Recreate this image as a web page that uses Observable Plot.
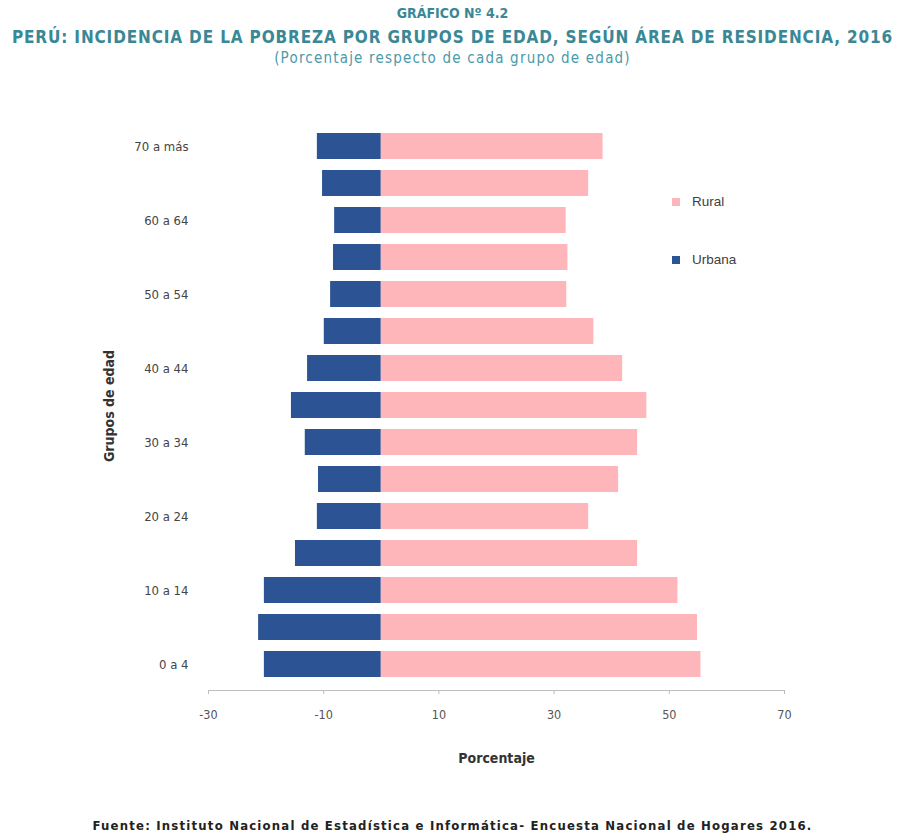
<!DOCTYPE html>
<html>
<head>
<meta charset="utf-8">
<script src="https://cdn.jsdelivr.net/npm/d3@7"></script>
<script src="https://cdn.jsdelivr.net/npm/@observablehq/plot@0.6"></script>
<style>
  html, body { margin: 0; padding: 0; background: #fff; }
  #wrap { position: relative; width: 905px; height: 836px; overflow: hidden; font-family: "DejaVu Sans Condensed", "Liberation Sans", sans-serif; }
  .t { position: absolute; left: 0; width: 905px; text-align: center; white-space: nowrap; }
  #t1 { top: 5px; font-size: 14px; font-weight: bold; color: #3a8795; }
  #t2 { top: 27px; font-size: 17px; letter-spacing: 0.85px; font-weight: bold; color: #3a8795; }
  #t3 { top: 49px; font-size: 15px; letter-spacing: 1.2px; color: #4a9aa8; }
  #chart { position: absolute; left: 0; top: 100px; }
  #legend { position: absolute; left: 672px; top: 194px; font-family: "Liberation Sans", "DejaVu Sans", sans-serif; font-size: 13.5px; color: #404040; }
  .li { position: absolute; left: 0; white-space: nowrap; display: flex; align-items: center; }
  .sw { width: 8px; height: 8px; margin-right: 12px; display: inline-block; }
  #foot { position: absolute; left: 0; width: 905px; top: 818px; text-align: center; font-size: 13px; letter-spacing: 1.2px; font-weight: bold; color: #222; white-space: nowrap; }
</style>
</head>
<body>
<div id="wrap">
  <div class="t" id="t1">GRÁFICO Nº 4.2</div>
  <div class="t" id="t2">PERÚ: INCIDENCIA DE LA POBREZA POR GRUPOS DE EDAD, SEGÚN ÁREA DE RESIDENCIA, 2016</div>
  <div class="t" id="t3">(Porcentaje respecto de cada grupo de edad)</div>
  <div id="chart"></div>
  <div id="legend"></div>
  <div id="foot">Fuente: Instituto Nacional de Estadística e Informática- Encuesta Nacional de Hogares  2016.</div>
</div>
<script>
const grupos = ["0 a 4","5 a 9","10 a 14","15 a 19","20 a 24","25 a 29","30 a 34","35 a 39","40 a 44","45 a 49","50 a 54","55 a 59","60 a 64","65 a 69","70 a más"];
const urbana = [20.3, 21.3, 20.3, 14.9, 11.1, 10.9, 13.2, 15.6, 12.8, 9.9, 8.8, 8.3, 8.1, 10.2, 11.1];
const rural  = [55.5, 54.9, 51.5, 44.5, 36.0, 41.2, 44.5, 46.1, 41.9, 36.9, 32.2, 32.4, 32.1, 36.0, 38.5];
const etiquetasY = ["0 a 4","10 a 14","20 a 24","30 a 34","40 a 44","50 a 54","60 a 64","70 a más"];
const ticksX = [-30, -10, 10, 30, 50, 70];
const series = ["Rural", "Urbana"];
const colores = ["#ffb6bb", "#2c5494"];

const data = grupos.map((g, i) => ({grupo: g, urbana: -urbana[i], rural: rural[i]}));

const chart = Plot.plot({
  width: 905,
  height: 680,
  marginTop: 21,
  marginBottom: 90,
  marginLeft: 208,
  marginRight: 121,
  style: {fontFamily: '"DejaVu Sans Condensed", sans-serif', fontSize: "12px", color: "#555"},
  x: {domain: [-30, 70]},
  y: {domain: grupos.slice().reverse(), padding: 0.29},
  marks: [
    Plot.barX(data, {y: "grupo", x1: 0, x2: "urbana", fill: colores[1]}),
    Plot.barX(data, {y: "grupo", x1: 0, x2: "rural", fill: colores[0]}),
    Plot.frame({anchor: "bottom", stroke: "#bdbdbd", strokeWidth: 1.2}),
    Plot.axisX({ticks: ticksX, tickSize: 4, tickPadding: 16, stroke: "#bdbdbd", fill: "#555", fontSize: 12.5,
      tickFormat: d => String(d),
      label: "Porcentaje", labelAnchor: "center", labelArrow: "none", labelOffset: 72}),
    Plot.axisY({tickSize: 0, tickPadding: 20, fill: "#444", fontSize: 13,
      tickFormat: d => etiquetasY.includes(d) ? d : "",
      label: "Grupos de edad", labelAnchor: "center", labelArrow: "none", labelOffset: 104})
  ]
});
document.getElementById("chart").appendChild(chart);

// style axis titles
chart.querySelectorAll("g[aria-label='x-axis label'] text, g[aria-label='y-axis label'] text").forEach(t => {
  t.setAttribute("font-weight", "bold");
  t.setAttribute("fill", "#333");
  t.setAttribute("font-size", "14");
});

const legend = document.getElementById("legend");
series.forEach((s, i) => {
  const row = document.createElement("div");
  row.className = "li";
  row.style.top = (i * 58) + "px";
  const sw = document.createElement("span");
  sw.className = "sw";
  sw.style.background = colores[i];
  row.appendChild(sw);
  row.appendChild(document.createTextNode(s));
  legend.appendChild(row);
});
</script>
</body>
</html>
